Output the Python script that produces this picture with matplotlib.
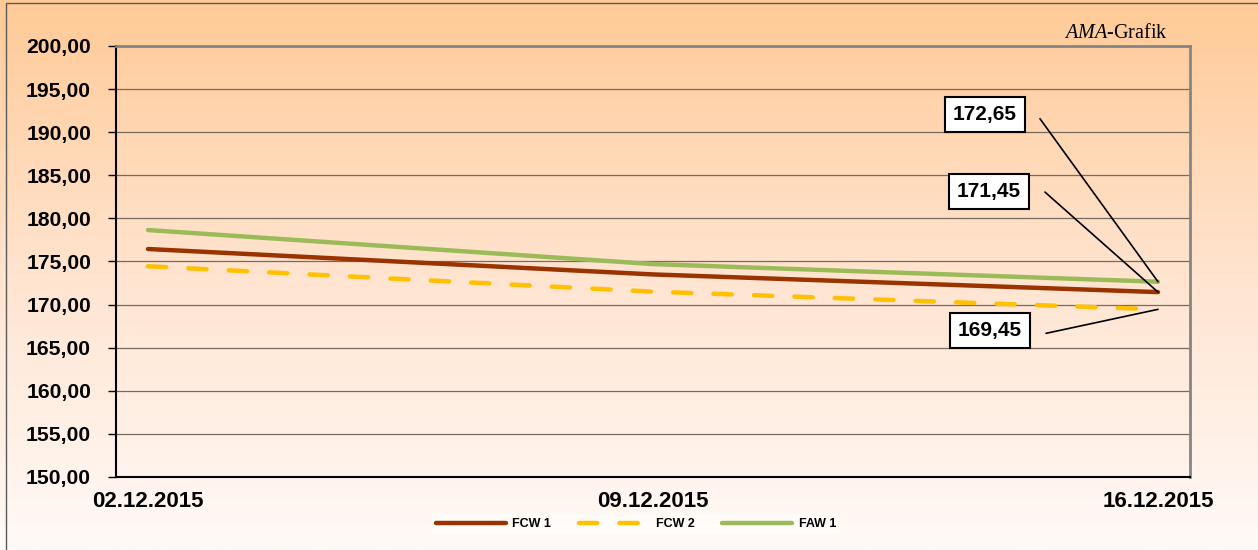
import matplotlib.pyplot as plt
import numpy as np
from matplotlib.colors import LinearSegmentedColormap
from matplotlib.patches import Rectangle

# data
dates = ['02.12.2015', '09.12.2015', '16.12.2015']
days = [0, 7, 14]
fcw1 = [176.45, 173.50, 171.45]
fcw2 = [174.45, 171.50, 169.45]
faw1 = [178.65, 174.70, 172.65]

plt.rcParams['font.family'] = ['Liberation Sans', 'DejaVu Sans']
plt.rcParams['mathtext.fontset'] = 'custom'
plt.rcParams['mathtext.rm'] = 'Liberation Serif'
plt.rcParams['mathtext.it'] = 'Liberation Serif:italic'

W, H = 1258, 550
fig = plt.figure(figsize=(W / 100, H / 100), dpi=100)

#background gradient
bg = fig.add_axes([0, 0, 1, 1], zorder=-10)
grad = np.linspace(0, 1, 256).reshape(-1, 1)
cmap = LinearSegmentedColormap.from_list('bg', ['#FFCA96', '#FFE4D0', '#FFFAF7'])
bg.imshow(grad, aspect='auto', cmap=cmap, extent=[0, 1, 0, 1])
bg.axis('off')
fig.patches.append(Rectangle((6.5 / W, -0.05), 1.2, 1 - 2.5 / H + 0.05,
                             transform=fig.transFigure, fill=False,
                             edgecolor='#5a5a5a', lw=1))

ax = fig.add_axes([116 / W, 73 / H, 1074 / W, 431 / H])
ax.patch.set_alpha(0)

ax.plot(days, fcw1, color='#993300', lw=3.2, solid_capstyle='round', label='FCW 1', zorder=3)
ax.plot(days, fcw2, color='#FFC000', lw=3.2, dash_capstyle='round',
        linestyle=(0, (4.1, 5.0)), label='FCW 2', zorder=3)
ax.plot(days, faw1, color='#9BBB59', lw=3.2, solid_capstyle='round', label='FAW 1', zorder=3)

ax.set_ylim(150, 200)
yt = np.arange(150, 201, 5)
ax.set_yticks(yt, [f'{v:.2f}'.replace('.', ',') for v in yt])
ax.yaxis.grid(True, color='#776a60', lw=0.9)
ax.set_axisbelow(True)
ax.set_xlim(-0.4436, 14.4436)
ax.set_xticks(days, dates)

ax.tick_params(axis='y', length=6, width=1, pad=12, labelsize=15.2)
ax.tick_params(axis='x', length=0, pad=10, labelsize=16)
for lab in ax.get_xticklabels() + ax.get_yticklabels():
    lab.set_fontweight('bold')

for s in ['left', 'bottom']:
    ax.spines[s].set_color('black')
    ax.spines[s].set_linewidth(1.5)
for s in ['top', 'right']:
    ax.spines[s].set_color('#858585')
    ax.spines[s].set_linewidth(2)

#value labels at last point
last = [(faw1[-1], (-118, 163), (-173, 167)),
        (fcw1[-1], (-113, 100), (-169, 101)),
        (fcw2[-1], (-112, -24), (-168, -21))]
for val, line_off, box_off in last:
    ax.annotate('', xy=(days[-1], val), xytext=line_off, textcoords='offset pixels',
                arrowprops=dict(arrowstyle='-', color='black', lw=1.2,
                                shrinkA=0, shrinkB=0), zorder=5)
    ax.annotate(f'{val:.2f}'.replace('.', ','), xy=(days[-1], val), xytext=box_off,
                textcoords='offset pixels', ha='center', va='center',
                fontsize=15, fontweight='bold',
                bbox=dict(boxstyle='square,pad=0.38', fc='white', ec='black', lw=1.5),
                zorder=6)

fig.text(1168 / W, 1 - 38 / H, r'$\mathit{AMA}$-Grafik', ha='right', va='baseline',
         fontsize=14.5, family='Liberation Serif')

leg = fig.legend(loc='center', bbox_to_anchor=(636 / W, 1 - 524 / H), ncol=3,
                 prop={'weight': 'bold', 'size': 9}, handlelength=5.6,
                 handletextpad=0.56, columnspacing=2.2, frameon=True,
                 fancybox=False, borderpad=0.3)
leg.get_frame().set_facecolor('white')
leg.get_frame().set_alpha(0.6)
leg.get_frame().set_edgecolor('none')

fig.savefig('out.png', dpi=100)
